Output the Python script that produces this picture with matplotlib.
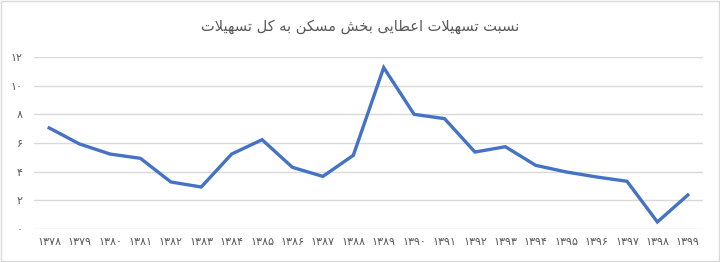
import matplotlib
matplotlib.use("Agg")
import matplotlib.pyplot as plt
from matplotlib.patches import Rectangle

years = ["۱۳۷۸", "۱۳۷۹", "۱۳۸۰", "۱۳۸۱", "۱۳۸۲", "۱۳۸۳", "۱۳۸۴", "۱۳۸۵", "۱۳۸۶", "۱۳۸۷", "۱۳۸۸",
         "۱۳۸۹", "۱۳۹۰", "۱۳۹۱", "۱۳۹۲", "۱۳۹۳", "۱۳۹۴", "۱۳۹۵", "۱۳۹۶", "۱۳۹۷", "۱۳۹۸", "۱۳۹۹"]
values = [7.05, 5.93, 5.23, 4.93, 3.28, 2.93, 5.23, 6.23, 4.30, 3.67, 5.14,
          11.26, 8.0, 7.70, 5.37, 5.74, 4.44, 3.98, 3.63, 3.33, 0.49, 2.37]
yticks = [0, 2, 4, 6, 8, 10, 12]
ytick_labels = ["۰", "۲", "۴", "۶", "۸", "۱۰", "۱۲"]
title = "نسبت تسهیلات اعطایی بخش مسکن به کل تسهیلات"

# minimal Arabic/Persian shaping: (isolated, final, initial, medial)
FORMS = {
    "ن": (0xFEE5, 0xFEE6, 0xFEE7, 0xFEE8),
    "س": (0xFEB1, 0xFEB2, 0xFEB3, 0xFEB4),
    "ب": (0xFE8F, 0xFE90, 0xFE91, 0xFE92),
    "ت": (0xFE95, 0xFE96, 0xFE97, 0xFE98),
    "ه": (0xFEE9, 0xFEEA, 0xFEEB, 0xFEEC),
    "ی": (0xFBFC, 0xFBFD, 0xFBFE, 0xFBFF),
    "ل": (0xFEDD, 0xFEDE, 0xFEDF, 0xFEE0),
    "ع": (0xFEC9, 0xFECA, 0xFECB, 0xFECC),
    "ط": (0xFEC1, 0xFEC2, 0xFEC3, 0xFEC4),
    "خ": (0xFEA5, 0xFEA6, 0xFEA7, 0xFEA8),
    "ش": (0xFEB5, 0xFEB6, 0xFEB7, 0xFEB8),
    "م": (0xFEE1, 0xFEE2, 0xFEE3, 0xFEE4),
    "ک": (0xFB8E, 0xFB8F, 0xFB90, 0xFB91),
    "ا": (0xFE8D, 0xFE8E, None, None),
}
LAMALEF = (0xFEFB, 0xFEFC)


def shape(text):
    # merge lam-alef
    chars = []
    i = 0
    while i < len(text):
        if text[i] == "ل" and i + 1 < len(text) and text[i + 1] == "ا":
            chars.append("LA")
            i += 2
        else:
            chars.append(text[i])
            i += 1

    def joins_next(c):  # can connect to following letter
        if c == "LA":
            return False
        f = FORMS.get(c)
        return f is not None and f[2] is not None

    def is_letter(c):
        return c == "LA" or c in FORMS

    out = []
    for k, c in enumerate(chars):
        prev = chars[k - 1] if k > 0 else None
        nxt = chars[k + 1] if k + 1 < len(chars) else None
        jp = prev is not None and joins_next(prev)
        jn = nxt is not None and is_letter(nxt) and joins_next(c)
        if c == "LA":
            out.append(chr(LAMALEF[1] if jp else LAMALEF[0]))
            continue
        f = FORMS.get(c)
        if f is None:
            out.append(c)
            continue
        if jp and jn:
            out.append(chr(f[3]))
        elif jp:
            out.append(chr(f[1]))
        elif jn:
            out.append(chr(f[2]))
        else:
            out.append(chr(f[0]))
    return "".join(out)[::-1]


plt.rcParams['font.family'] = ['DejaVu Sans']

fig = plt.figure(figsize=(7.2, 2.62), dpi=100)
ax = fig.add_axes([34/720, 33/262, 669/720, 172/262])

x = list(range(len(years)))
ax.plot(x, values, color="#4472C4", lw=2.4, solid_joinstyle="miter")
ax.set_xlim(-0.5, len(years) - 0.5)
ax.set_ylim(0, 12)
ax.set_yticks(yticks)
ax.set_yticklabels(ytick_labels)
ax.set_xticks(x)
ax.set_xticklabels(years)
ax.grid(axis="y", color="#d9d9d9", lw=1)
ax.set_axisbelow(True)
for s in ax.spines.values():
    s.set_visible(False)
ax.tick_params(length=0, colors="#595959", labelsize=8)
ax.tick_params(axis="y", pad=8)
ax.tick_params(axis="x", pad=6)

fig.text(0.5, 1 - 27/262, shape(title), ha="center", va="center", fontsize=10.5, color="#595959")
fig.patches.append(Rectangle((0.001, 0.002), 0.997, 0.995, transform=fig.transFigure,
                             fill=False, edgecolor="#d9d9d9", lw=1))
fig.savefig("out.png", dpi=100)
